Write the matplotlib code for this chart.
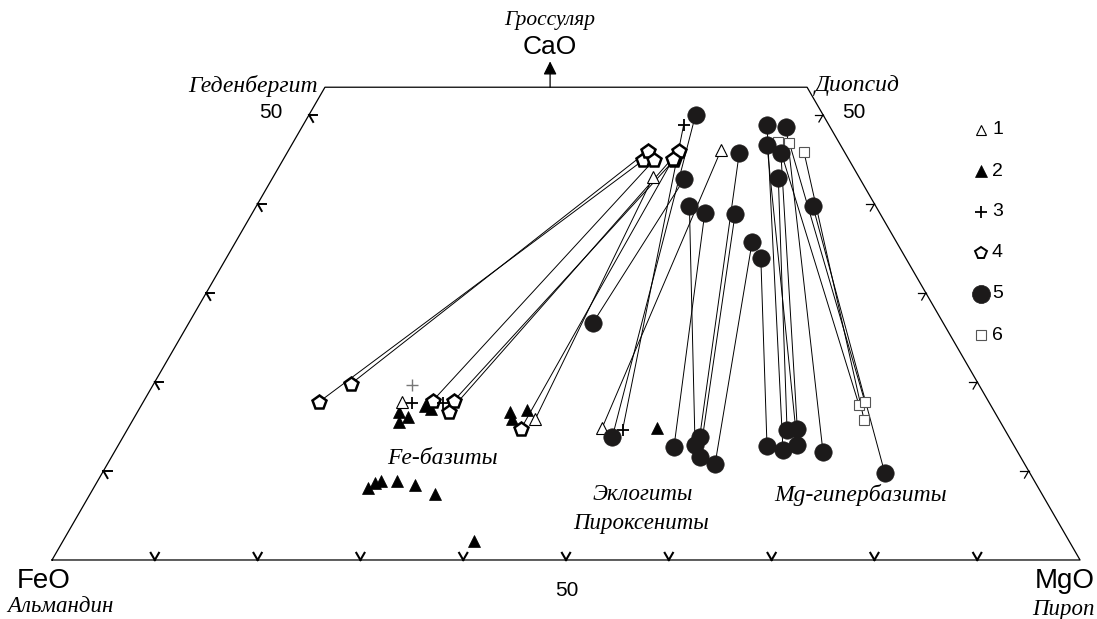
import numpy as np
import matplotlib.pyplot as plt

# составы в % (CaO, MgO); FeO = 100 - CaO - MgO
# 5 - круги: cpx (верх) и гранат (низ), попарно
circ_cpx_ca = [50.0, 42.8, 39.0, 39.8, 45.7, 38.9, 35.7, 33.9, 48.9, 42.9, 45.7, 46.6, 48.65, 39.8]
circ_cpx_mg = [37.6, 40.1, 44.0, 42.1, 44.0, 47.0, 50.25, 52.0, 45.1, 49.2, 48.05, 46.25, 47.1, 54.1]
circ_grt_ca = [13.8, 26.6, 12.7, 12.9, 13.8, 11.6, 10.8, 12.8, 12.4, 14.6, 14.7, 12.9, 12.1, 9.8]
circ_grt_mg = [47.6, 39.3, 54.15, 56.1, 56.1, 57.2, 59.1, 63.15, 64.9, 64.2, 65.15, 66.05, 68.95, 76.1]

# 6 - квадраты
sq_cpx_ca = [47.0, 46.85, 45.8]
sq_cpx_mg = [47.1, 48.3, 50.25]
sq_grt_ca = [17.4, 17.75, 15.7]
sq_grt_mg = [69.8, 70.2, 71.15]

# 4 - пятиугольники
pent_cpx_ca = [44.9, 45.96, 44.9, 44.9, 45.96, 45.0]
pent_cpx_mg = [35.05, 35.0, 36.1, 38.05, 38.0, 37.9]
pent_grt_ca = [17.75, 19.8, 17.9, 17.9, 16.6, 14.7]
pent_grt_mg = [17.1, 19.2, 28.1, 30.15, 30.3, 38.25]

# 1 - открытые треугольники
otri_cpx_ca = [43.0, 46.1]
otri_cpx_mg = [36.96, 42.05]
otri_grt_ca = [15.8, 14.8]
otri_grt_mg = [39.1, 46.1]
otri_single_ca = [17.75]
otri_single_mg = [25.2]

# 3 - кресты
plus_cpx_ca = [48.9]
plus_cpx_mg = [37.0]
plus_grt_ca = [14.6]
plus_grt_mg = [48.2]
plus_single_ca = [17.6, 17.6]
plus_single_mg = [26.2, 29.2]
plus_grey_ca = [19.7]
plus_grey_mg = [25.15]

# 2 - залитые треугольники (без коннод)
ftri_ca = [16.6, 16.1, 15.5, 17.3, 17.0, 16.6, 16.85, 15.8, 14.8,
           8.1, 8.65, 8.9, 8.9, 8.4, 7.4, 2.1]
ftri_mg = [25.45, 26.6, 26.0, 27.6, 28.4, 36.25, 37.8, 36.85, 51.45,
           26.65, 27.1, 27.55, 29.1, 31.1, 33.55, 40.0]

ca_top = 53.1
ticks = [10, 20, 30, 40, 50, 60, 70, 80, 90]
side_ticks = [10, 20, 30, 40, 50]
legend_labels = ['1', '2', '3', '4', '5', '6']

H = np.sqrt(3) / 2


def tern(ca, mg):
    ca = np.asarray(ca, dtype=float)
    mg = np.asarray(mg, dtype=float)
    return mg + ca / 2, ca * H


fig = plt.figure(figsize=(10.97, 6.19), dpi=100)
ax = fig.add_axes([0, 0, 1, 1])
ax.set_xlim(-5.06, 101.65)
ax.set_ylim(-5.74, 54.47)
ax.axis('off')

# контур (усечённый треугольник)
bx, by = tern([0, ca_top, ca_top, 0, 0], [0, 0, 100 - ca_top, 100, 0])
ax.plot(bx, by, color='black', lw=0.9, zorder=2)

# засечки
L = 0.8
for t in ticks:
    x0, y0 = tern(0, t)
    for ang in (60, 120):
        a = np.radians(ang)
        ax.plot([x0, x0 + L * np.cos(a)], [y0, y0 + L * np.sin(a)], color='black', lw=1.5, zorder=2)
for t in side_ticks:
    x0, y0 = tern(t, 0)
    for ang in (0, -60):
        a = np.radians(ang)
        ax.plot([x0, x0 + L * np.cos(a)], [y0, y0 + L * np.sin(a)], color='black', lw=1.4, zorder=2)
    x0, y0 = tern(t, 100 - t)
    for ang in (180, 240):
        a = np.radians(ang)
        ax.plot([x0, x0 + L * np.cos(a)], [y0, y0 + L * np.sin(a)], color='black', lw=0.9, zorder=2)

# стрелка CaO
ax.annotate('', xy=(48.45, 48.5), xytext=(48.45, ca_top * H),
            arrowprops=dict(arrowstyle='-|>', color='black', lw=0.9, mutation_scale=20,
                            shrinkA=0, shrinkB=0), zorder=3)


def ties(cpx_ca, cpx_mg, grt_ca, grt_mg):
    x1, y1 = tern(cpx_ca, cpx_mg)
    x2, y2 = tern(grt_ca, grt_mg)
    for i in range(len(x1)):
        ax.plot([x1[i], x2[i]], [y1[i], y2[i]], color='black', lw=0.7, zorder=3)


ties(circ_cpx_ca, circ_cpx_mg, circ_grt_ca, circ_grt_mg)
ties(sq_cpx_ca, sq_cpx_mg, sq_grt_ca, sq_grt_mg)
ties(pent_cpx_ca, pent_cpx_mg, pent_grt_ca, pent_grt_mg)
ties(otri_cpx_ca, otri_cpx_mg, otri_grt_ca, otri_grt_mg)
ties(plus_cpx_ca, plus_cpx_mg, plus_grt_ca, plus_grt_mg)

st = {
    '1': dict(marker='^', ms=9, mfc='white', mec='black', mew=0.8, ls='none'),
    '2': dict(marker='^', ms=9, mfc='black', mec='black', mew=0.5, ls='none'),
    '3': dict(marker='+', ms=9, mec='black', mew=1.3, ls='none'),
    '4': dict(marker='p', ms=10, mfc='white', mec='black', mew=1.8, ls='none'),
    '5': dict(marker='o', ms=12.5, mfc='#1c1a1a', mec='#1c1a1a', mew=0.5, ls='none'),
    '6': dict(marker='s', ms=7, mfc='white', mec='#555555', mew=0.8, ls='none'),
}
leg_ms = {'1': 7.5, '2': 8, '3': 8, '4': 8.5, '5': 13, '6': 7}

ax.plot(*tern(sq_cpx_ca + sq_grt_ca, sq_cpx_mg + sq_grt_mg), zorder=4, **st['6'])
ax.plot(*tern(ftri_ca, ftri_mg), zorder=4, **st['2'])
ax.plot(*tern(otri_cpx_ca + otri_grt_ca + otri_single_ca, otri_cpx_mg + otri_grt_mg + otri_single_mg),
        zorder=5, **st['1'])
ax.plot(*tern(pent_cpx_ca + pent_grt_ca, pent_cpx_mg + pent_grt_mg), zorder=5, **st['4'])
ax.plot(*tern(plus_cpx_ca + plus_grt_ca + plus_single_ca, plus_cpx_mg + plus_grt_mg + plus_single_mg),
        zorder=6, **st['3'])
ax.plot(*tern(plus_grey_ca, plus_grey_mg), marker='+', ms=9, mec='#777777', mew=1.0, ls='none', zorder=6)
ax.plot(*tern(circ_cpx_ca + circ_grt_ca, circ_cpx_mg + circ_grt_mg), zorder=6, **st['5'])

# легенда
W, Hp = 1097.0, 619.0
for k, lab in enumerate(legend_labels):
    yy = 1 - (130 + 41 * k) / Hp
    s = dict(st[lab])
    s['ms'] = leg_ms[lab]
    if lab == '4':
        s['mew'] = 1.4
    ax.plot([981 / W], [yy], transform=fig.transFigure, clip_on=False, **s)
    fig.text(992 / W, yy, lab, fontsize=14, family='Liberation Sans', va='center', ha='left')

sans = 'Liberation Sans'
serif = 'Liberation Serif'


def px(x, y, s, **kw):
    fig.text(x / W, 1 - y / Hp, s, **kw)


px(550, 20, 'Гроссуляр', fontsize=15.5, family=serif, style='italic', ha='center', va='center')
px(550, 47, 'CaO', fontsize=19, family=sans, ha='center', va='center')
px(318, 86, 'Геденбергит', fontsize=17, family=serif, style='italic', ha='right', va='center')
px(283, 113, '50', fontsize=15, family=sans, ha='right', va='center')
px(815, 86, 'Диопсид', fontsize=17, family=serif, style='italic', ha='left', va='center')
px(842, 112, '50', fontsize=15, family=sans, ha='left', va='center')
px(17, 581, 'FeO', fontsize=20, family=sans, ha='left', va='center')
px(7, 607, 'Альмандин', fontsize=16.5, family=serif, style='italic', ha='left', va='center')
px(567, 591, '50', fontsize=15, family=sans, ha='center', va='center')
px(1095, 581, 'MgO', fontsize=20, family=sans, ha='right', va='center')
px(1095, 609, 'Пироп', fontsize=16.5, family=serif, style='italic', ha='right', va='center')
px(442, 458, 'Fe-базиты', fontsize=17, family=serif, style='italic', ha='center', va='center')
px(643, 495, 'Эклогиты', fontsize=16.5, family=serif, style='italic', ha='center', va='center')
px(641, 523, 'Пироксениты', fontsize=16.5, family=serif, style='italic', ha='center', va='center')
px(861, 495, 'Mg-гипербазиты', fontsize=17, family=serif, style='italic', ha='center', va='center')

fig.savefig('out.png', dpi=100)
